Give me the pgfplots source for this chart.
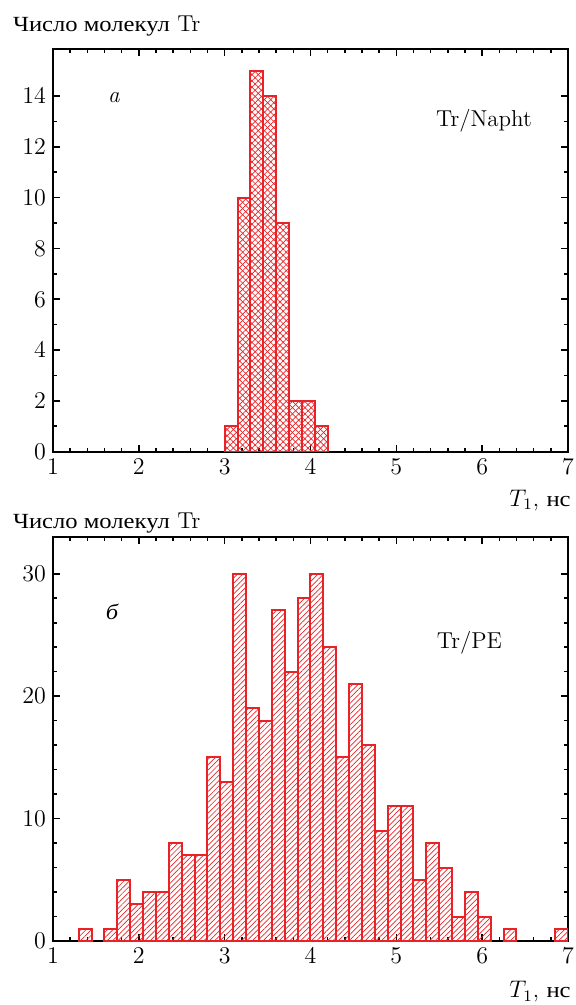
\documentclass[border=0pt]{standalone}
\usepackage{fontspec}
\usepackage{pgfplots}
\usepackage{pgfplotstable}
\pgfplotsset{compat=1.18}
\usetikzlibrary{patterns.meta}
\newfontfamily\cyr[Scale=MatchLowercase, FakeStretch=1.14]{Liberation Serif}
\definecolor{barred}{RGB}{232,34,38}

% T1 histograms, bin width 0.15 ns (bin centres)
\pgfplotstableread{
x      n
3.075  1
3.225  10
3.375  15
3.525  14
3.675  9
3.825  2
3.975  2
4.125  1
}\naphtdata

\pgfplotstableread{
x      n
1.375  1
1.675  1
1.825  5
1.975  3
2.125  4
2.275  4
2.425  8
2.575  7
2.725  7
2.875  15
3.025  13
3.175  30
3.325  19
3.475  18
3.625  27
3.775  22
3.925  28
4.075  30
4.225  24
4.375  15
4.525  21
4.675  16
4.825  9
4.975  11
5.125  11
5.275  5
5.425  8
5.575  6
5.725  2
5.875  4
6.025  2
6.325  1
6.925  1
}\pedata

\pgfplotsset{
  histaxis/.style={
    scale only axis,
    width=257.5pt,
    anchor=south west,
    xmin=1, xmax=7,
    xtick={1,...,7},
    minor x tick num=4,
    ymin=0,
    tick align=inside,
    tick pos=both,
    xticklabel pos=lower,
    yticklabel pos=left,
    axis line style={line width=1pt},
    every tick/.style={black, line width=0.8pt},
    major tick length=3.6pt,
    minor tick length=2pt,
    tick label style={font=\fontsize{11.5}{13}\selectfont},
  },
  histbar/.style={
    ybar, bar width=0.15, bar shift=0pt,
    draw=barred, line width=1pt,
  },
}

\begin{document}
\begin{tikzpicture}
\path[use as bounding box] (0pt,0pt) rectangle (288pt,-502.5pt);

% (a) Tr/Napht
\begin{axis}[histaxis,
  at={(26.5pt,-225.85pt)},
  height=201.2pt,
  ymax=15.84,
  ytick={0,2,...,14},
  minor y tick num=1]
\addplot[histbar,
  pattern={Lines[angle=45,distance=2.2pt,line width=0.35pt]},
  pattern color=barred,
  postaction={pattern={Lines[angle=-45,distance=2.2pt,line width=0.35pt]}, pattern color=barred}]
  table[x=x,y=n] {\naphtdata};
\end{axis}

% (b) Tr/PE
\begin{axis}[histaxis,
  at={(26.5pt,-470.5pt)},
  height=202pt,
  ymax=33,
  ytick={0,10,20,30},
  minor y tick num=4]
\addplot[histbar,
  pattern={Lines[angle=45,distance=1.9pt,line width=0.35pt]},
  pattern color=barred]
  table[x=x,y=n] {\pedata};
\end{axis}

\begin{scope}[every node/.style={inner sep=0pt, font=\fontsize{11.5}{13}\selectfont}]
\node[anchor=base west] at (6.3pt,-15.9pt) {{\cyr Число молекул} Tr};
\node[anchor=base] at (57pt,-51.5pt) {\textit{a}};
\node[anchor=base] at (242pt,-63.3pt) {Tr/Napht};
\node[anchor=base east] at (285.5pt,-253pt) {$T_1$, {\cyr нс}};

\node[anchor=base west] at (6.3pt,-264pt) {{\cyr Число молекул} Tr};
\node[anchor=base] at (56pt,-309.5pt) {{\cyr\itshape б}};
\node[anchor=base] at (234.75pt,-324pt) {Tr/PE};
\node[anchor=base east] at (285.5pt,-498.7pt) {$T_1$, {\cyr нс}};
\end{scope}
\end{tikzpicture}
\end{document}
